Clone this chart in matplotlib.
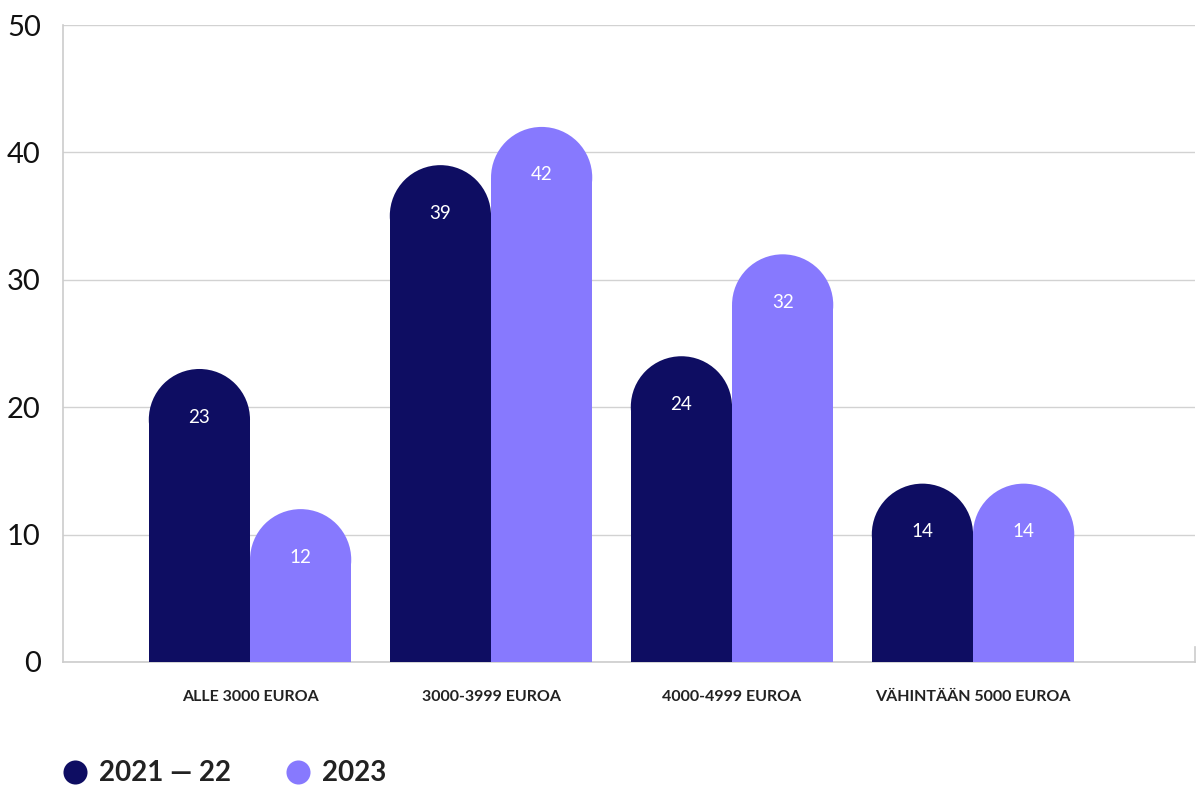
import matplotlib.pyplot as plt
from matplotlib.patches import Rectangle, Ellipse

categories = ["ALLE 3000 EUROA", "3000-3999 EUROA", "4000-4999 EUROA", "VÄHINTÄÄN 5000 EUROA"]
series_names = ["2021 — 22", "2023"]
values_2021_22 = [23, 39, 24, 14]
values_2023 = [12, 42, 32, 14]
y_ticks = [0, 10, 20, 30, 40, 50]

DARK = "#0e0d62"
LIGHT = "#8779fe"

plt.rcParams['font.family'] = ['Lato', 'DejaVu Sans']

fig = plt.figure(figsize=(12.03, 7.87), dpi=100)
ax = fig.add_axes([63 / 1203, 125 / 787, 1132 / 1203, 637 / 787])

xmin, xmax = -0.776, 3.921
ax.set_xlim(xmin, xmax)
ax.set_ylim(0, 50)

bar_w = 0.42
# convert half bar width to data units on y so the top is a true semicircle
px_per_x = 1132 / (xmax - xmin)
px_per_y = 637 / 50
r_y = (bar_w / 2) * px_per_x / px_per_y


def rounded_bar(x, h, color):
    ax.add_patch(Rectangle((x - bar_w / 2, 0), bar_w, h - r_y, color=color, lw=0, zorder=3))
    ax.add_patch(Ellipse((x, h - r_y), bar_w, 2 * r_y, color=color, lw=0, zorder=3))
    ax.text(x, h - r_y + 0.2, str(h), color="white", ha="center", va="center",
            fontsize=13.5, zorder=4)


for i, (a, b) in enumerate(zip(values_2021_22, values_2023)):
    rounded_bar(i - bar_w / 2, a, DARK)
    rounded_bar(i + bar_w / 2, b, LIGHT)

ax.set_yticks(y_ticks)
ax.set_yticklabels([str(t) for t in y_ticks], fontsize=21, color="#111111")
ax.set_xticks(range(len(categories)))
ax.set_xticklabels(categories, fontsize=11.5, fontweight="bold", color="#222222")
ax.tick_params(axis="y", length=0, pad=16)
ax.tick_params(axis="x", length=0, pad=20)
ax.grid(axis="y", color="#d2d2d2", lw=1, zorder=0)

ax.spines["top"].set_visible(False)
for s in ["left", "bottom", "right"]:
    ax.spines[s].set_color("#cccccc")
    ax.spines[s].set_linewidth(1.2)
ax.spines["right"].set_bounds(0, 1.2)

# legend drawn by hand on an overlay in figure pixels
lax = fig.add_axes([0, 0, 1, 1], zorder=-1)
lax.set_xlim(0, 1203)
lax.set_ylim(787, 0)
lax.axis("off")
for cx, color, name in zip([75, 298], [DARK, LIGHT], series_names):
    lax.scatter([cx], [772], s=300, color=color, lw=0)
    lax.text(cx + 24, 773, name, fontsize=20, fontweight="bold", color="#222222",
             ha="left", va="center")

plt.savefig("out.png", dpi=100)
